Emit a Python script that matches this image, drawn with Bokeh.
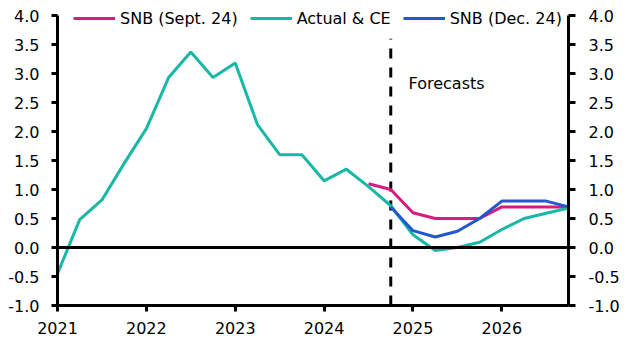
from bokeh.plotting import figure
from bokeh.models import (Range1d, LinearAxis, FixedTicker, Span, Legend, LegendItem)
from bokeh.core.properties import value
from bokeh.embed import file_html
from bokeh.resources import INLINE

FONT = "DejaVu Sans"

# quarterly time axis (2021 Q1 .. 2026 Q4)
quarters = [2021 + 0.25 * i for i in range(24)]

actual_ce = [-0.45, 0.48, 0.82, 1.45, 2.05, 2.93, 3.37, 2.93, 3.18, 2.12, 1.60, 1.60,
             1.15, 1.35, 1.05, 0.72, 0.22, -0.05, 0.0, 0.09, 0.31, 0.50, 0.59, 0.68]
snb_sept_x = quarters[14:]
snb_sept = [1.10, 1.00, 0.60, 0.50, 0.50, 0.50, 0.70, 0.70, 0.70, 0.70]
snb_dec_x = quarters[15:]
snb_dec = [0.70, 0.29, 0.18, 0.28, 0.50, 0.80, 0.80, 0.80, 0.70]

year_ticks = [2021, 2022, 2023, 2024, 2025, 2026]
y_ticks = [-1.0, -0.5, 0.0, 0.5, 1.0, 1.5, 2.0, 2.5, 3.0, 3.5, 4.0]
forecast_start = 2024.75
forecast_label = "Forecasts"

C_SEPT = "#d81b7e"
C_ACT = "#17b8a6"
C_DEC = "#2157cf"

Y_TOP = 4.0 + 15.0 / 58.0  # headroom above the 4.0 tick for the legend

p = figure(width=630, height=355, output_backend="svg", toolbar_location=None,
           x_range=Range1d(2021, 2026.75), y_range=Range1d(-1.0, Y_TOP),
           min_border_left=57, min_border_right=62, min_border_top=0, min_border_bottom=50)
p.outline_line_color = None
p.xgrid.visible = False
p.ygrid.visible = False
p.background_fill_color = "white"
p.border_fill_color = "white"

def style_axis(ax, tick_out, standoff):
    ax.axis_line_color = "black"
    ax.axis_line_width = 3
    ax.major_tick_line_color = "black"
    ax.major_tick_line_width = 3
    ax.major_tick_in = 0
    ax.major_tick_out = tick_out
    ax.minor_tick_line_color = None
    ax.major_label_text_font = FONT
    ax.major_label_text_font_size = "16px"
    ax.major_label_text_color = "black"
    ax.major_label_standoff = standoff

# bottom axis
xa = p.xaxis[0]
xa.ticker = FixedTicker(ticks=year_ticks)
xa.major_label_overrides = {y: str(y) for y in year_ticks}
style_axis(xa, 6, 10)

# left axis
ya = p.yaxis[0]
ya.ticker = FixedTicker(ticks=y_ticks)
ya.major_label_overrides = {v: f"{v:.1f}" for v in y_ticks}
ya.bounds = (-1.0, 4.0)
style_axis(ya, 6, 12)

# right axis
ra = LinearAxis()
ra.ticker = FixedTicker(ticks=y_ticks)
ra.major_label_overrides = {v: f"{v:.1f}" for v in y_ticks}
ra.bounds = (-1.0, 4.0)
style_axis(ra, 7, 13)
p.add_layout(ra, "right")

# zero line
p.add_layout(Span(location=0, dimension="width", line_color="black", line_width=3))

# forecast divider
p.segment(x0=[forecast_start], y0=[-1.0], x1=[forecast_start], y1=[3.6],
          line_color="black", line_width=3, line_dash="10 9")
p.text(x=[forecast_start + 0.2], y=[2.83], text=[forecast_label],
       text_font=value(FONT), text_font_size="16px", text_baseline="middle",
       text_align="left", text_color="black")

r_sept = p.line(snb_sept_x, snb_sept, line_color=C_SEPT, line_width=3)
r_act = p.line(quarters, actual_ce, line_color=C_ACT, line_width=3)
r_dec = p.line(snb_dec_x, snb_dec, line_color=C_DEC, line_width=3)

legend = Legend(items=[LegendItem(label="SNB (Sept. 24)", renderers=[r_sept]),
                       LegendItem(label="Actual & CE", renderers=[r_act]),
                       LegendItem(label="SNB (Dec. 24)", renderers=[r_dec])],
                orientation="horizontal", location=(16, 277),
                padding=0, margin=0, spacing=12,
                glyph_width=42, glyph_height=20, label_standoff=5,
                label_text_font=FONT, label_text_font_size="16px",
                label_text_color="black",
                background_fill_alpha=0, border_line_alpha=0)
p.add_layout(legend, "center")

open("out.html", "w").write(file_html(p, INLINE))
